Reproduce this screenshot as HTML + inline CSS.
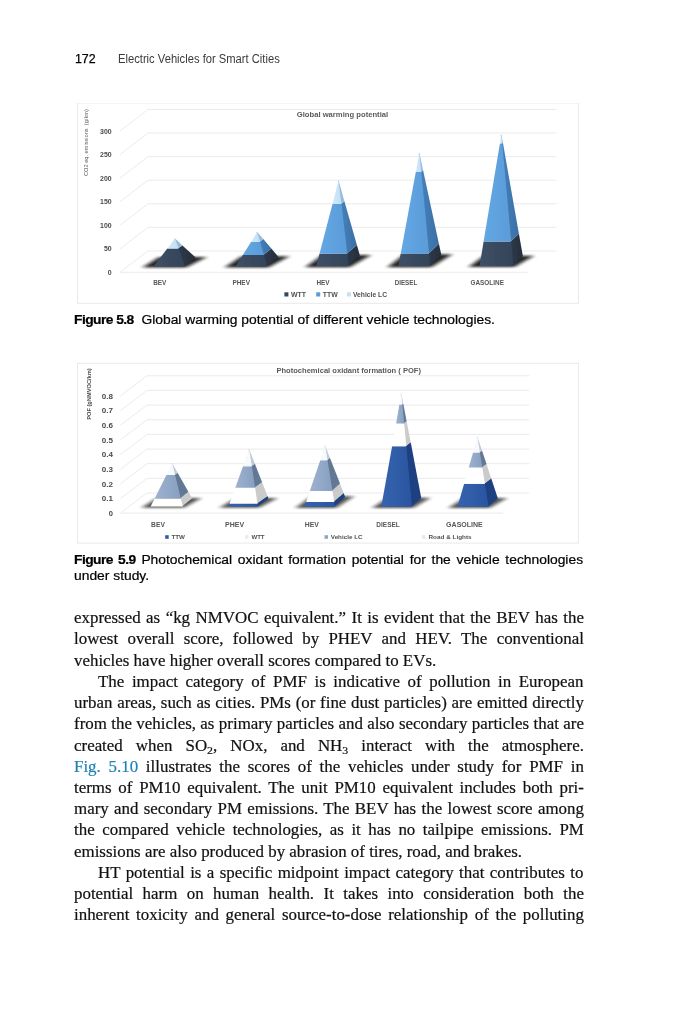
<!DOCTYPE html>
<html lang="en"><head><meta charset="utf-8"><title>Electric Vehicles for Smart Cities - page 172</title>
<style>
html,body{margin:0;padding:0;background:#fff}
body{width:682px;height:1024px;position:relative;overflow:hidden;font-family:"Liberation Serif",serif;color:#111}
.abs{position:absolute;white-space:nowrap}
.hd{font-family:"Liberation Sans",sans-serif;font-size:12px;line-height:14px;top:51.5px}
.cap{font-family:"Liberation Sans",sans-serif;font-size:12.3px;line-height:14px;color:#000;transform:scaleX(1.125);transform-origin:0 0;-webkit-text-stroke:0.2px #000}
.cap b{font-weight:bold;letter-spacing:-0.5px}
.bl{position:absolute;white-space:nowrap;font-size:16px;line-height:22px;height:22px;overflow:visible;transform:scaleX(1.056);transform-origin:0 0;-webkit-text-stroke:0.2px #111}
.j{text-align:justify;text-align-last:justify;white-space:normal}
.lk{color:#1f82b8;-webkit-text-stroke:0.2px #1f82b8}
sub{font-size:70%;vertical-align:baseline;position:relative;top:0.3em;line-height:0}
svg{position:absolute;left:0;top:0}
svg text{font-family:"Liberation Sans",sans-serif;font-weight:bold}
.ax{fill:#4a4a4a}
.yt1{fill:#5a5a5a;font-weight:normal}
.yt2{fill:#4a4a4a}
.tt{fill:#5a5a5a}
.cat{fill:#565656}
.lg{fill:#505050}
</style></head><body>
<div class="abs hd" style="left:74.5px;color:#000;transform:scaleX(1.03);transform-origin:0 0;-webkit-text-stroke:0.25px #000">172</div>
<div class="abs hd" style="left:118px;color:#3a3a3a;transform:scaleX(0.933);transform-origin:0 0">Electric Vehicles for Smart Cities</div>
<svg width="682" height="1024" viewBox="0 0 682 1024">
<defs>
<filter id="sh" x="-20%" y="-100%" width="140%" height="300%"><feGaussianBlur stdDeviation="2.6 1.3"/></filter>
<filter id="soft" x="0" y="0" width="100%" height="100%"><feGaussianBlur stdDeviation="0.45"/></filter>
<linearGradient id="g1d" x1="0" x2="1" y1="0" y2="0"><stop offset="0" stop-color="#3f5066"/><stop offset="1" stop-color="#334358"/></linearGradient>
<linearGradient id="g1b" x1="0" x2="1" y1="0" y2="0"><stop offset="0" stop-color="#62a8e4"/><stop offset="1" stop-color="#5a9bd8"/></linearGradient>
<linearGradient id="s1b" x1="0" x2="1" y1="0" y2="0"><stop offset="0" stop-color="#4681bb"/><stop offset="1" stop-color="#3a6fa5"/></linearGradient>
<linearGradient id="s1d" x1="0" x2="1" y1="0" y2="0"><stop offset="0" stop-color="#2e394a"/><stop offset="1" stop-color="#252e3c"/></linearGradient>
<linearGradient id="g1l" x1="0" x2="1" y1="0" y2="0"><stop offset="0" stop-color="#d3eafa"/><stop offset="1" stop-color="#bfdff5"/></linearGradient>
<linearGradient id="g2b" x1="0" x2="1" y1="0" y2="0"><stop offset="0" stop-color="#3563af"/><stop offset="1" stop-color="#2a55a0"/></linearGradient>
<linearGradient id="g2g" x1="0" x2="1" y1="0" y2="0"><stop offset="0" stop-color="#9db2cf"/><stop offset="1" stop-color="#879fc0"/></linearGradient>
</defs>
<g filter="url(#soft)">
<rect x="77.5" y="103" width="501" height="200.3" fill="#fff" stroke="#e9e9e9" stroke-width="1"/>
<polyline points="120.0,272.3 148.0,251.0 556.5,251.0" fill="none" stroke="#e9e9e9" stroke-width="0.9"/>
<polyline points="120.0,248.8 148.0,227.4 556.5,227.4" fill="none" stroke="#e9e9e9" stroke-width="0.9"/>
<polyline points="120.0,225.2 148.0,203.8 556.5,203.8" fill="none" stroke="#e9e9e9" stroke-width="0.9"/>
<polyline points="120.0,201.7 148.0,180.2 556.5,180.2" fill="none" stroke="#e9e9e9" stroke-width="0.9"/>
<polyline points="120.0,178.1 148.0,156.6 556.5,156.6" fill="none" stroke="#e9e9e9" stroke-width="0.9"/>
<polyline points="120.0,154.6 148.0,133.0 556.5,133.0" fill="none" stroke="#e9e9e9" stroke-width="0.9"/>
<polyline points="120.0,131.0 148.0,109.4 556.5,109.4" fill="none" stroke="#e9e9e9" stroke-width="0.9"/>
<line x1="120" y1="272.3" x2="528.6" y2="272.3" stroke="#e9e9e9" stroke-width="0.9"/>
<text x="107.8" y="274.9" font-size="7.60" textLength="3.9" lengthAdjust="spacingAndGlyphs" class="ax">0</text>
<text x="104.0" y="251.4" font-size="7.60" textLength="7.7" lengthAdjust="spacingAndGlyphs" class="ax">50</text>
<text x="100.1" y="227.9" font-size="7.60" textLength="11.6" lengthAdjust="spacingAndGlyphs" class="ax">100</text>
<text x="100.1" y="204.3" font-size="7.60" textLength="11.6" lengthAdjust="spacingAndGlyphs" class="ax">150</text>
<text x="100.1" y="180.8" font-size="7.60" textLength="11.6" lengthAdjust="spacingAndGlyphs" class="ax">200</text>
<text x="100.1" y="157.2" font-size="7.60" textLength="11.6" lengthAdjust="spacingAndGlyphs" class="ax">250</text>
<text x="100.1" y="133.7" font-size="7.60" textLength="11.6" lengthAdjust="spacingAndGlyphs" class="ax">300</text>
<text transform="translate(88.4,176) rotate(-90)" font-size="5.5" textLength="66.8" lengthAdjust="spacingAndGlyphs" class="yt1">CO2 eq. emissions&#160; (g/km)</text>
<text x="296.7" y="117.3" font-size="8.10" textLength="91.5" lengthAdjust="spacingAndGlyphs" class="tt">Global warming potential</text>
<polygon points="142.5,267.6 186.1,267.6 206.7,257.1 159.1,257.1" fill="#111" opacity="0.90" filter="url(#sh)"/>
<polygon points="224.6,267.6 268.3,267.6 289.3,256.2 241.6,256.2" fill="#111" opacity="0.90" filter="url(#sh)"/>
<polygon points="305.3,267.2 349.7,267.2 370.9,255.1 322.5,255.1" fill="#111" opacity="0.90" filter="url(#sh)"/>
<polygon points="387.4,267.2 431.3,267.2 452.3,254.3 404.4,254.3" fill="#111" opacity="0.90" filter="url(#sh)"/>
<polygon points="468.6,267.1 514.4,267.1 533.9,255.7 484.1,255.7" fill="#111" opacity="0.90" filter="url(#sh)"/>
<polygon points="184.4,266.4 195.7,257.6 182.4,245.4 177.9,248.5" fill="url(#s1d)"/>
<polygon points="177.9,248.5 182.4,245.4 182.3,245.3 177.9,248.4" fill="url(#s1b)"/>
<polygon points="177.9,248.4 182.3,245.3 175.0,238.6 174.3,238.6" fill="#98badb"/>
<polygon points="153.5,266.4 185.1,266.4 178.6,248.5 167.3,248.5" fill="url(#g1d)"/>
<polygon points="167.3,248.5 178.6,248.5 178.6,248.4 167.4,248.4" fill="url(#g1b)"/>
<polygon points="167.4,248.4 178.6,248.4 175.0,238.6 175.0,238.6" fill="url(#g1l)"/>
<polygon points="266.6,266.4 278.3,256.7 271.3,248.5 263.3,255.0" fill="url(#s1d)"/>
<polygon points="263.3,255.0 271.3,248.5 263.3,239.1 259.4,241.9" fill="url(#s1b)"/>
<polygon points="259.4,241.9 263.3,239.1 257.2,232.0 256.5,232.0" fill="#98badb"/>
<polygon points="235.6,266.4 267.3,266.4 264.0,255.0 242.8,255.0" fill="url(#g1d)"/>
<polygon points="242.8,255.0 264.0,255.0 260.1,241.9 251.0,241.9" fill="url(#g1b)"/>
<polygon points="251.0,241.9 260.1,241.9 257.2,232.0 257.2,232.0" fill="url(#g1l)"/>
<polygon points="348.0,266.0 359.9,255.6 356.9,244.9 346.6,253.8" fill="url(#s1d)"/>
<polygon points="346.6,253.8 356.9,244.9 344.4,201.2 340.7,204.0" fill="url(#s1b)"/>
<polygon points="340.7,204.0 344.4,201.2 338.6,180.6 337.9,180.6" fill="#98badb"/>
<polygon points="316.3,266.0 348.7,266.0 347.3,253.8 319.5,253.8" fill="url(#g1d)"/>
<polygon points="319.5,253.8 347.3,253.8 341.4,204.0 332.5,204.0" fill="url(#g1b)"/>
<polygon points="332.5,204.0 341.4,204.0 338.6,180.6 338.6,180.6" fill="url(#g1l)"/>
<polygon points="429.6,266.0 441.3,254.8 438.9,243.8 428.4,253.8" fill="url(#s1d)"/>
<polygon points="428.4,253.8 438.9,243.8 423.1,170.2 420.6,172.1" fill="url(#s1b)"/>
<polygon points="420.6,172.1 423.1,170.2 419.4,152.8 418.7,152.8" fill="#98badb"/>
<polygon points="398.4,266.0 430.3,266.0 429.1,253.8 400.7,253.8" fill="url(#g1d)"/>
<polygon points="400.7,253.8 429.1,253.8 421.3,172.1 415.8,172.1" fill="url(#g1b)"/>
<polygon points="415.8,172.1 421.3,172.1 419.4,152.8 419.4,152.8" fill="url(#g1l)"/>
<polygon points="512.7,265.9 522.9,256.2 518.9,233.7 510.5,241.6" fill="url(#s1d)"/>
<polygon points="510.5,241.6 518.9,233.7 502.9,142.8 501.5,143.5" fill="url(#s1b)"/>
<polygon points="501.5,143.5 502.9,142.8 501.4,134.5 500.7,134.5" fill="#98badb"/>
<polygon points="479.6,265.9 513.4,265.9 511.2,241.6 483.6,241.6" fill="url(#g1d)"/>
<polygon points="483.6,241.6 511.2,241.6 502.2,143.5 499.9,143.5" fill="url(#g1b)"/>
<polygon points="499.9,143.5 502.2,143.5 501.4,134.5 501.4,134.5" fill="url(#g1l)"/>
<text x="153.2" y="285.1" font-size="6.70" textLength="13.2" lengthAdjust="spacingAndGlyphs" class="cat">BEV</text>
<text x="232.4" y="285.1" font-size="6.70" textLength="17.6" lengthAdjust="spacingAndGlyphs" class="cat">PHEV</text>
<text x="316.4" y="285.1" font-size="6.70" textLength="13.2" lengthAdjust="spacingAndGlyphs" class="cat">HEV</text>
<text x="394.7" y="285.1" font-size="6.70" textLength="22.6" lengthAdjust="spacingAndGlyphs" class="cat">DIESEL</text>
<text x="470.5" y="285.1" font-size="6.70" textLength="33.4" lengthAdjust="spacingAndGlyphs" class="cat">GASOLINE</text>
<rect x="284.4" y="292.3" width="4" height="4.2" fill="#35475c"/>
<text x="290.9" y="297.0" font-size="7.30" textLength="15.1" lengthAdjust="spacingAndGlyphs" class="lg">WTT</text>
<rect x="316.2" y="292.3" width="4" height="4.2" fill="#5b9bd5"/>
<text x="322.8" y="297.0" font-size="7.30" textLength="14.9" lengthAdjust="spacingAndGlyphs" class="lg">TTW</text>
<rect x="346.9" y="292.3" width="4" height="4.2" fill="#c3e0f5"/>
<text x="353.0" y="297.0" font-size="7.30" textLength="34.0" lengthAdjust="spacingAndGlyphs" class="lg">Vehicle LC</text>
<rect x="77.5" y="363.3" width="501.1" height="179.8" fill="#fff" stroke="#e9e9e9" stroke-width="1"/>
<polyline points="120.4,513.1 147.0,493.0 529.2,493.0" fill="none" stroke="#e9e9e9" stroke-width="0.9"/>
<polyline points="120.4,498.5 147.0,478.4 529.2,478.4" fill="none" stroke="#e9e9e9" stroke-width="0.9"/>
<polyline points="120.4,483.8 147.0,463.7 529.2,463.7" fill="none" stroke="#e9e9e9" stroke-width="0.9"/>
<polyline points="120.4,469.2 147.0,449.1 529.2,449.1" fill="none" stroke="#e9e9e9" stroke-width="0.9"/>
<polyline points="120.4,454.5 147.0,434.4 529.2,434.4" fill="none" stroke="#e9e9e9" stroke-width="0.9"/>
<polyline points="120.4,439.9 147.0,419.8 529.2,419.8" fill="none" stroke="#e9e9e9" stroke-width="0.9"/>
<polyline points="120.4,425.2 147.0,405.1 529.2,405.1" fill="none" stroke="#e9e9e9" stroke-width="0.9"/>
<polyline points="120.4,410.6 147.0,390.4 529.2,390.4" fill="none" stroke="#e9e9e9" stroke-width="0.9"/>
<polyline points="120.4,395.9 147.0,375.8 529.2,375.8" fill="none" stroke="#e9e9e9" stroke-width="0.9"/>
<line x1="120.4" y1="513.1" x2="503.3" y2="513.1" stroke="#e9e9e9" stroke-width="0.9"/>
<text x="108.8" y="515.9" font-size="7.50" textLength="4.2" lengthAdjust="spacingAndGlyphs" class="ax">0</text>
<text x="101.8" y="501.3" font-size="7.50" textLength="11.2" lengthAdjust="spacingAndGlyphs" class="ax">0.1</text>
<text x="101.8" y="486.6" font-size="7.50" textLength="11.2" lengthAdjust="spacingAndGlyphs" class="ax">0.2</text>
<text x="101.8" y="472.0" font-size="7.50" textLength="11.2" lengthAdjust="spacingAndGlyphs" class="ax">0.3</text>
<text x="101.8" y="457.3" font-size="7.50" textLength="11.2" lengthAdjust="spacingAndGlyphs" class="ax">0.4</text>
<text x="101.8" y="442.7" font-size="7.50" textLength="11.2" lengthAdjust="spacingAndGlyphs" class="ax">0.5</text>
<text x="101.8" y="428.0" font-size="7.50" textLength="11.2" lengthAdjust="spacingAndGlyphs" class="ax">0.6</text>
<text x="101.8" y="413.4" font-size="7.50" textLength="11.2" lengthAdjust="spacingAndGlyphs" class="ax">0.7</text>
<text x="101.8" y="398.7" font-size="7.50" textLength="11.2" lengthAdjust="spacingAndGlyphs" class="ax">0.8</text>
<text transform="translate(91.3,419.8) rotate(-90)" font-size="5.6" textLength="51.5" lengthAdjust="spacingAndGlyphs" class="yt2">POF (gNMVOC/km)</text>
<text x="276.4" y="372.7" font-size="6.80" textLength="144.6" lengthAdjust="spacingAndGlyphs" class="tt">Photochemical oxidant formation ( POF)</text>
<polygon points="141.6,507.8 183.8,507.8 201.2,497.9 157.0,497.9" fill="#111" opacity="0.72" filter="url(#sh)"/>
<polygon points="219.5,507.8 258.9,507.8 277.4,497.9 236.0,497.9" fill="#111" opacity="0.72" filter="url(#sh)"/>
<polygon points="295.5,507.9 336.0,507.9 354.1,496.3 311.6,496.3" fill="#111" opacity="0.72" filter="url(#sh)"/>
<polygon points="372.3,507.9 413.0,507.9 430.3,497.7 387.6,497.7" fill="#111" opacity="0.72" filter="url(#sh)"/>
<polygon points="448.5,508.0 489.5,508.0 506.9,498.1 463.9,498.1" fill="#111" opacity="0.72" filter="url(#sh)"/>
<polygon points="182.1,506.6 192.2,498.4 192.2,498.3 182.1,506.5" fill="#1e3f80"/>
<polygon points="182.1,506.5 192.2,498.3 188.4,491.7 180.1,498.4" fill="#cbcbcb"/>
<polygon points="180.1,498.4 188.4,491.7 177.6,472.7 174.4,474.9" fill="#647894"/>
<polygon points="174.4,474.9 177.6,472.7 172.2,463.2 171.5,463.2" fill="#c2cad5"/>
<polygon points="150.6,506.6 182.8,506.6 182.8,506.5 150.6,506.5" fill="url(#g2b)"/>
<polygon points="150.6,506.5 182.8,506.5 180.8,498.4 154.7,498.4" fill="#ffffff"/>
<polygon points="154.7,498.4 180.8,498.4 175.1,474.9 166.4,474.9" fill="url(#g2g)"/>
<polygon points="166.4,474.9 175.1,474.9 172.2,463.2 172.2,463.2" fill="#f7fafd"/>
<polygon points="257.2,506.6 268.4,498.4 267.5,496.0 256.8,503.8" fill="#1e3f80"/>
<polygon points="256.8,503.8 267.5,496.0 262.1,482.3 254.4,487.8" fill="#cbcbcb"/>
<polygon points="254.4,487.8 262.1,482.3 254.9,463.8 251.1,466.2" fill="#647894"/>
<polygon points="251.1,466.2 254.9,463.8 249.2,449.1 248.5,449.1" fill="#c2cad5"/>
<polygon points="228.5,506.6 257.9,506.6 257.5,503.8 229.5,503.8" fill="url(#g2b)"/>
<polygon points="229.5,503.8 257.5,503.8 255.1,487.8 235.3,487.8" fill="#ffffff"/>
<polygon points="235.3,487.8 255.1,487.8 251.8,466.2 243.0,466.2" fill="url(#g2g)"/>
<polygon points="243.0,466.2 251.8,466.2 249.2,449.1 249.2,449.1" fill="#f7fafd"/>
<polygon points="334.3,506.7 345.1,496.8 343.6,492.9 333.5,502.0" fill="#1e3f80"/>
<polygon points="333.5,502.0 343.6,492.9 340.0,483.6 331.8,491.0" fill="#cbcbcb"/>
<polygon points="331.8,491.0 340.0,483.6 329.9,457.8 326.8,460.2" fill="#647894"/>
<polygon points="326.8,460.2 329.9,457.8 325.2,445.7 324.5,445.7" fill="#c2cad5"/>
<polygon points="304.5,506.7 335.0,506.7 334.2,502.0 306.1,502.0" fill="url(#g2b)"/>
<polygon points="306.1,502.0 334.2,502.0 332.5,491.0 309.8,491.0" fill="#ffffff"/>
<polygon points="309.8,491.0 332.5,491.0 327.5,460.2 320.3,460.2" fill="url(#g2g)"/>
<polygon points="320.3,460.2 327.5,460.2 325.2,445.7 325.2,445.7" fill="#f7fafd"/>
<polygon points="411.3,506.7 421.3,498.2 410.7,442.2 405.6,446.2" fill="#1e3f80"/>
<polygon points="405.6,446.2 410.7,442.2 406.6,421.2 403.5,423.4" fill="#cbcbcb"/>
<polygon points="403.5,423.4 406.6,421.2 403.3,403.8 401.7,404.6" fill="#647894"/>
<polygon points="401.7,404.6 403.3,403.8 401.4,393.6 400.7,393.6" fill="#c2cad5"/>
<polygon points="381.3,506.7 412.0,506.7 406.3,446.2 392.1,446.2" fill="url(#g2b)"/>
<polygon points="392.1,446.2 406.3,446.2 404.2,423.4 396.1,423.4" fill="#ffffff"/>
<polygon points="396.1,423.4 404.2,423.4 402.4,404.6 399.4,404.6" fill="url(#g2g)"/>
<polygon points="399.4,404.6 402.4,404.6 401.4,393.6 401.4,393.6" fill="#f7fafd"/>
<polygon points="487.8,506.8 497.9,498.6 491.2,478.3 484.2,483.8" fill="#1e3f80"/>
<polygon points="484.2,483.8 491.2,478.3 486.5,464.0 481.6,467.6" fill="#cbcbcb"/>
<polygon points="481.6,467.6 486.5,464.0 482.0,450.6 479.2,452.4" fill="#647894"/>
<polygon points="479.2,452.4 482.0,450.6 477.5,436.9 476.8,436.9" fill="#c2cad5"/>
<polygon points="457.5,506.8 488.5,506.8 484.9,483.8 464.1,483.8" fill="url(#g2b)"/>
<polygon points="464.1,483.8 484.9,483.8 482.3,467.6 468.7,467.6" fill="#ffffff"/>
<polygon points="468.7,467.6 482.3,467.6 479.9,452.4 473.1,452.4" fill="url(#g2g)"/>
<polygon points="473.1,452.4 479.9,452.4 477.5,436.9 477.5,436.9" fill="#f7fafd"/>
<text x="151.1" y="526.7" font-size="6.90" textLength="13.8" lengthAdjust="spacingAndGlyphs" class="cat">BEV</text>
<text x="225.0" y="526.7" font-size="6.90" textLength="19.1" lengthAdjust="spacingAndGlyphs" class="cat">PHEV</text>
<text x="304.8" y="526.7" font-size="6.90" textLength="14.1" lengthAdjust="spacingAndGlyphs" class="cat">HEV</text>
<text x="376.3" y="526.7" font-size="6.90" textLength="23.5" lengthAdjust="spacingAndGlyphs" class="cat">DIESEL</text>
<text x="446.1" y="526.7" font-size="6.90" textLength="36.7" lengthAdjust="spacingAndGlyphs" class="cat">GASOLINE</text>
<rect x="165.2" y="535.2" width="3.5" height="3.6" fill="#2e5aa0"/>
<text x="171.4" y="539.1" font-size="5.80" textLength="13.5" lengthAdjust="spacingAndGlyphs" class="lg">TTW</text>
<rect x="245.0" y="535.2" width="3.5" height="3.6" fill="#ececec"/>
<text x="251.4" y="539.1" font-size="5.80" textLength="13.2" lengthAdjust="spacingAndGlyphs" class="lg">WTT</text>
<rect x="324.5" y="535.2" width="3.5" height="3.6" fill="#8fa7c6"/>
<text x="330.8" y="539.1" font-size="5.80" textLength="31.7" lengthAdjust="spacingAndGlyphs" class="lg">Vehicle LC</text>
<rect x="421.8" y="535.2" width="3.5" height="3.6" fill="#e6e9f2"/>
<text x="428.5" y="539.1" font-size="5.80" textLength="43.1" lengthAdjust="spacingAndGlyphs" class="lg">Road &amp; Lights</text>
</g>
</svg>
<div class="abs cap" style="left:74.2px;top:312.8px;width:372.3px"><b>Figure 5.8</b>&nbsp; Global warming potential of different vehicle technologies.</div>
<div class="abs cap j" style="left:74.4px;top:552.7px;width:452.5px"><b>Figure 5.9</b> Photochemical oxidant formation potential for the vehicle technologies</div>
<div class="abs cap" style="left:74.4px;top:569px">under study.</div>
<div class="bl j" style="left:73.6px;top:607.2px;width:482.86px">expressed as “kg NMVOC equivalent.” It is evident that the BEV has the</div>
<div class="bl j" style="left:73.6px;top:628.4px;width:482.86px">lowest overall score, followed by PHEV and HEV. The conventional</div>
<div class="bl" style="left:73.6px;top:649.6px;width:482.86px">vehicles have higher overall scores compared to EVs.</div>
<div class="bl j" style="left:98.0px;top:670.9px;width:459.75px">The impact category of PMF is indicative of pollution in European</div>
<div class="bl j" style="left:73.6px;top:692.1px;width:482.86px">urban areas, such as cities. PMs (or fine dust particles) are emitted directly</div>
<div class="bl j" style="left:73.6px;top:713.3px;width:482.86px">from the vehicles, as primary particles and also secondary particles that are</div>
<div class="bl j" style="left:73.6px;top:734.5px;width:482.86px">created when SO<sub>2</sub>, NOx, and NH<sub>3</sub> interact with the atmosphere.</div>
<div class="bl j" style="left:73.6px;top:755.7px;width:482.86px"><span class="lk">Fig. 5.10</span> illustrates the scores of the vehicles under study for PMF in</div>
<div class="bl j" style="left:73.6px;top:777.0px;width:482.86px">terms of PM10 equivalent. The unit PM10 equivalent includes both pri-</div>
<div class="bl j" style="left:73.6px;top:798.2px;width:482.86px">mary and secondary PM emissions. The BEV has the lowest score among</div>
<div class="bl j" style="left:73.6px;top:819.4px;width:482.86px">the compared vehicle technologies, as it has no tailpipe emissions. PM</div>
<div class="bl" style="left:73.6px;top:840.6px;width:482.86px">emissions are also produced by abrasion of tires, road, and brakes.</div>
<div class="bl j" style="left:98.0px;top:861.8px;width:459.75px">HT potential is a specific midpoint impact category that contributes to</div>
<div class="bl j" style="left:73.6px;top:883.1px;width:482.86px">potential harm on human health. It takes into consideration both the</div>
<div class="bl j" style="left:73.6px;top:904.3px;width:482.86px">inherent toxicity and general source-to-dose relationship of the polluting</div>
</body></html>
